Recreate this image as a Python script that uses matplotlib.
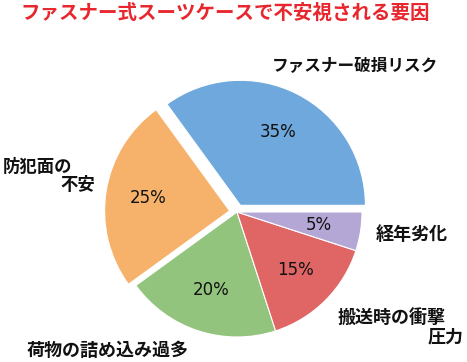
import matplotlib
matplotlib.use("Agg")
import matplotlib.pyplot as plt

plt.rcParams['font.family'] = ['Noto Sans CJK JP', 'DejaVu Sans']

# data
categories = ['ファスナー破損リスク', '防犯面の不安', '荷物の詰め込み過多', '搬送時の衝撃圧力', '経年劣化']
shares = [35, 25, 20, 15, 5]
colors = ['#6fa8dc', '#f6b26b', '#93c47d', '#e06666', '#b4a7d6']
explode = [0.06, 0.06, 0, 0, 0]
title = 'ファスナー式スーツケースで不安視される要因'

# how each category label is broken into lines, and where each line sits (figure fraction)
label_lines = [
    [('ファスナー破損リスク', 0.760, 0.820, 'center')],
    [('防犯面の', 0.006, 0.539, 'left'), ('不安', 0.166, 0.489, 'center')],
    [('荷物の詰め込み過多', 0.230, 0.033, 'center')],
    [('搬送時の衝撃', 0.839, 0.122, 'center'), ('圧力', 0.955, 0.069, 'center')],
    [('経年劣化', 0.882, 0.351, 'center')],
]
label_sizes = [12, 12.5, 13, 13, 13]

W, H = 467, 362
fig = plt.figure(figsize=(W / 100, H / 100), dpi=100)

# pie centre at about (237, 212) px, radius 125 px
cx, cy, r = 237, 212, 125
lim = 1.3
ax = fig.add_axes([(cx - lim * r) / W, (H - cy - lim * r) / H, 2 * lim * r / W, 2 * lim * r / H])

wedges, texts, autotexts = ax.pie(
    shares, colors=colors, explode=explode, startangle=0, counterclock=True,
    autopct='%d%%', pctdistance=0.66,
    wedgeprops=dict(edgecolor='white', linewidth=0.8),
    textprops=dict(fontsize=12, color='#111111'))
for t in autotexts:
    t.set_fontfamily('DejaVu Sans')

ax.set_xlim(-lim, lim)
ax.set_ylim(-lim, lim)
ax.set_aspect('equal')
ax.axis('off')

for lines, fs in zip(label_lines, label_sizes):
    for txt, x, y, ha in lines:
        fig.text(x, y, txt, ha=ha, va='center', fontsize=fs, fontweight='bold', color='#111111')

fig.text(20 / W, 0.964, title, ha='left', va='center', fontsize=14, fontweight='bold', color='#e8262d')

fig.savefig('out.png', dpi=100)
